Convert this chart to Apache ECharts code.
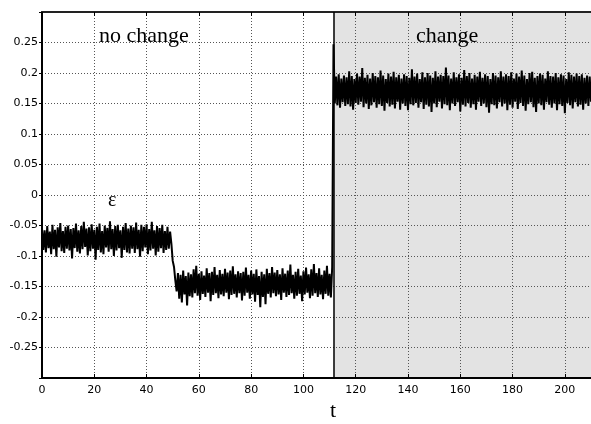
<!DOCTYPE html>
<html>
<head>
<meta charset="utf-8">
<title>ε(t)</title>
<script src="https://cdn.jsdelivr.net/npm/echarts@6/dist/echarts.min.js"></script>
<style>
  html, body { margin: 0; padding: 0; background: #ffffff; }
  #chart { width: 591px; height: 424px; }
</style>
</head>
<body>
<div id="chart"></div>
<script>
// Sampling of the residual signal ε(t): one value every T_STEP starting at T0.
const T0 = 0;
const T_STEP = 0.5;

// t = 0 .. 49
const epsBefore = [
  -0.055, -0.090, -0.058, -0.094, -0.051, -0.087, -0.060, -0.097, -0.049, -0.089,
  -0.057, -0.101, -0.053, -0.086, -0.046, -0.092, -0.059, -0.095, -0.052, -0.088,
  -0.050, -0.091, -0.056, -0.104, -0.054, -0.087, -0.047, -0.093, -0.058, -0.096,
  -0.051, -0.089, -0.044, -0.085, -0.055, -0.099, -0.053, -0.092, -0.048, -0.088,
  -0.057, -0.106, -0.052, -0.090, -0.047, -0.094, -0.059, -0.097, -0.050, -0.086,
  -0.054, -0.093, -0.043, -0.089, -0.056, -0.100, -0.051, -0.091, -0.049, -0.087,
  -0.058, -0.103, -0.052, -0.090, -0.046, -0.094, -0.055, -0.096, -0.050, -0.088,
  -0.053, -0.095, -0.045, -0.089, -0.057, -0.101, -0.049, -0.092, -0.052, -0.086,
  -0.048, -0.097, -0.056, -0.091, -0.044, -0.088, -0.058, -0.099, -0.051, -0.093,
  -0.054, -0.087, -0.049, -0.095, -0.059, -0.090, -0.052, -0.088, -0.060
];

// t = 49.5 .. 51.5 : drift to the lower level
const epsDrop = [-0.080, -0.108, -0.118, -0.140, -0.158];

// t = 52 .. 111
const epsAfterDrop = [
  -0.128, -0.170, -0.131, -0.176, -0.124, -0.163, -0.133, -0.181, -0.127, -0.166,
  -0.130, -0.168, -0.122, -0.161, -0.116, -0.165, -0.129, -0.172, -0.125, -0.162,
  -0.132, -0.167, -0.120, -0.160, -0.128, -0.174, -0.126, -0.164, -0.118, -0.161,
  -0.131, -0.169, -0.123, -0.163, -0.129, -0.166, -0.121, -0.160, -0.127, -0.171,
  -0.124, -0.164, -0.117, -0.162, -0.130, -0.168, -0.125, -0.161, -0.128, -0.173,
  -0.126, -0.165, -0.119, -0.160, -0.131, -0.170, -0.124, -0.163, -0.129, -0.175,
  -0.122, -0.164, -0.133, -0.184, -0.126, -0.167, -0.130, -0.179, -0.121, -0.162,
  -0.128, -0.168, -0.118, -0.161, -0.127, -0.166, -0.123, -0.163, -0.130, -0.172,
  -0.120, -0.160, -0.129, -0.167, -0.124, -0.164, -0.114, -0.161, -0.131, -0.170,
  -0.126, -0.165, -0.121, -0.162, -0.132, -0.174, -0.125, -0.163, -0.119, -0.160,
  -0.130, -0.169, -0.122, -0.165, -0.113, -0.161, -0.128, -0.167, -0.120, -0.163,
  -0.131, -0.171, -0.124, -0.162, -0.116, -0.165, -0.129, -0.168, -0.118
];

// t = 111.5 : the jump
const epsJump = [0.247];

// t = 112 .. 210
const epsChange = [
  0.150, 0.194, 0.147, 0.198, 0.143, 0.191, 0.152, 0.196, 0.146, 0.193,
  0.149, 0.203, 0.145, 0.195, 0.140, 0.190, 0.151, 0.199, 0.148, 0.194,
  0.153, 0.208, 0.144, 0.192, 0.150, 0.197, 0.141, 0.191, 0.147, 0.200,
  0.152, 0.195, 0.143, 0.193, 0.149, 0.204, 0.146, 0.196, 0.138, 0.190,
  0.151, 0.199, 0.145, 0.194, 0.148, 0.202, 0.142, 0.193, 0.153, 0.197,
  0.140, 0.191, 0.150, 0.198, 0.146, 0.195, 0.139, 0.192, 0.149, 0.206,
  0.147, 0.194, 0.151, 0.199, 0.143, 0.190, 0.152, 0.201, 0.141, 0.193,
  0.148, 0.200, 0.145, 0.196, 0.136, 0.192, 0.150, 0.203, 0.144, 0.194,
  0.153, 0.197, 0.142, 0.195, 0.149, 0.209, 0.147, 0.196, 0.139, 0.191,
  0.150, 0.201, 0.146, 0.193, 0.152, 0.198, 0.137, 0.192, 0.148, 0.205,
  0.145, 0.195, 0.151, 0.200, 0.143, 0.191, 0.149, 0.197, 0.140, 0.194,
  0.153, 0.202, 0.146, 0.192, 0.150, 0.198, 0.144, 0.195, 0.135, 0.190,
  0.149, 0.200, 0.147, 0.196, 0.142, 0.193, 0.152, 0.203, 0.145, 0.194,
  0.150, 0.198, 0.139, 0.195, 0.148, 0.201, 0.143, 0.191, 0.153, 0.199,
  0.141, 0.194, 0.151, 0.204, 0.146, 0.196, 0.138, 0.190, 0.149, 0.200,
  0.152, 0.202, 0.144, 0.192, 0.136, 0.195, 0.150, 0.199, 0.147, 0.197,
  0.140, 0.191, 0.152, 0.203, 0.148, 0.195, 0.143, 0.194, 0.150, 0.200,
  0.139, 0.193, 0.149, 0.198, 0.146, 0.196, 0.134, 0.190, 0.151, 0.201,
  0.147, 0.197, 0.142, 0.194, 0.152, 0.199, 0.145, 0.195, 0.148, 0.198,
  0.140, 0.192, 0.150, 0.196, 0.146, 0.194, 0.153
];

// Change point and axis ranges
const CHANGE_T = 111.5;
const T_RANGE = [0, 210];
const EPS_RANGE = [-0.3, 0.3];

// Annotations
const LABEL_BEFORE = 'no change';
const LABEL_AFTER = 'change';
const LABEL_SIGNAL = 'ε';
const LABEL_T = 't';

const signal = [].concat(epsBefore, epsDrop, epsAfterDrop, epsJump, epsChange);
const points = signal.map((v, i) => [T0 + i * T_STEP, v]);

const chart = echarts.init(document.getElementById('chart'), null, { renderer: 'canvas' });

const tickFont = { fontFamily: 'DejaVu Sans', fontSize: 11, color: '#000' };
const gridDots = { color: '#555', width: 1, type: [1, 2] };
const serif = 'Liberation Serif';

chart.setOption({
  animation: false,
  backgroundColor: '#ffffff',
  grid: { left: 42, top: 12, width: 550, height: 366, containLabel: false },
  xAxis: [
    {
      type: 'value',
      min: T_RANGE[0], max: T_RANGE[1], interval: 20,
      z: 1.5,
      axisLine: { show: true, onZero: false, lineStyle: { color: '#000', width: 2 } },
      axisTick: { show: true, inside: true, length: 4, lineStyle: { color: '#000' } },
      axisLabel: {
        ...tickFont, margin: 7, showMaxLabel: false,
        formatter: v => (v > 205 ? '' : String(v))
      },
      splitLine: { show: true, lineStyle: gridDots }
    },
    {
      type: 'value', position: 'top',
      min: T_RANGE[0], max: T_RANGE[1], interval: 20,
      z: 1.5,
      axisLine: { show: true, onZero: false, lineStyle: { color: '#222', width: 2 } },
      axisTick: { show: true, inside: true, length: 4, lineStyle: { color: '#000' } },
      axisLabel: { show: false },
      splitLine: { show: false }
    }
  ],
  yAxis: {
    type: 'value',
    min: EPS_RANGE[0], max: EPS_RANGE[1], interval: 0.05,
    z: 1.5,
    axisLine: { show: true, onZero: false, lineStyle: { color: '#000', width: 2 } },
    axisTick: { show: true, inside: false, length: 3, lineStyle: { color: '#000' } },
    axisLabel: {
      ...tickFont, margin: 4,
      formatter: v => {
        const r = Math.round(v * 100) / 100;
        return Math.abs(r) > 0.29 ? '' : String(r);
      }
    },
    splitLine: { show: true, lineStyle: gridDots }
  },
  series: [
    {
      // shaded "change" region
      type: 'line',
      data: [],
      silent: true,
      markArea: {
        silent: true,
        itemStyle: { color: '#e3e3e3' },
        data: [[{ xAxis: CHANGE_T }, { xAxis: T_RANGE[1] }]]
      }
    },
    {
      type: 'line',
      name: LABEL_SIGNAL,
      data: points,
      showSymbol: false,
      symbol: 'none',
      sampling: null,
      lineStyle: { color: '#000', width: 2 },
      z: 3,
      markLine: {
        silent: true,
        symbol: ['none', 'none'],
        label: { show: false },
        lineStyle: { color: '#000', width: 1.5, type: 'solid' },
        data: [{ xAxis: CHANGE_T }]
      }
    }
  ],
  graphic: [
    {
      type: 'text', left: 99, top: 25, z: 10, silent: true,
      style: { text: LABEL_BEFORE, fontFamily: serif, fontSize: 22, fill: '#000' }
    },
    {
      type: 'text', left: 416, top: 25, z: 10, silent: true,
      style: { text: LABEL_AFTER, fontFamily: serif, fontSize: 22, fill: '#000' }
    },
    {
      type: 'text', left: 108, top: 191, z: 10, silent: true,
      style: { text: LABEL_SIGNAL, fontFamily: serif, fontSize: 20, fill: '#000' }
    },
    {
      type: 'text', left: 330, top: 400, z: 10, silent: true,
      style: { text: LABEL_T, fontFamily: serif, fontSize: 22, fill: '#000' }
    }
  ]
});
</script>
</body>
</html>
